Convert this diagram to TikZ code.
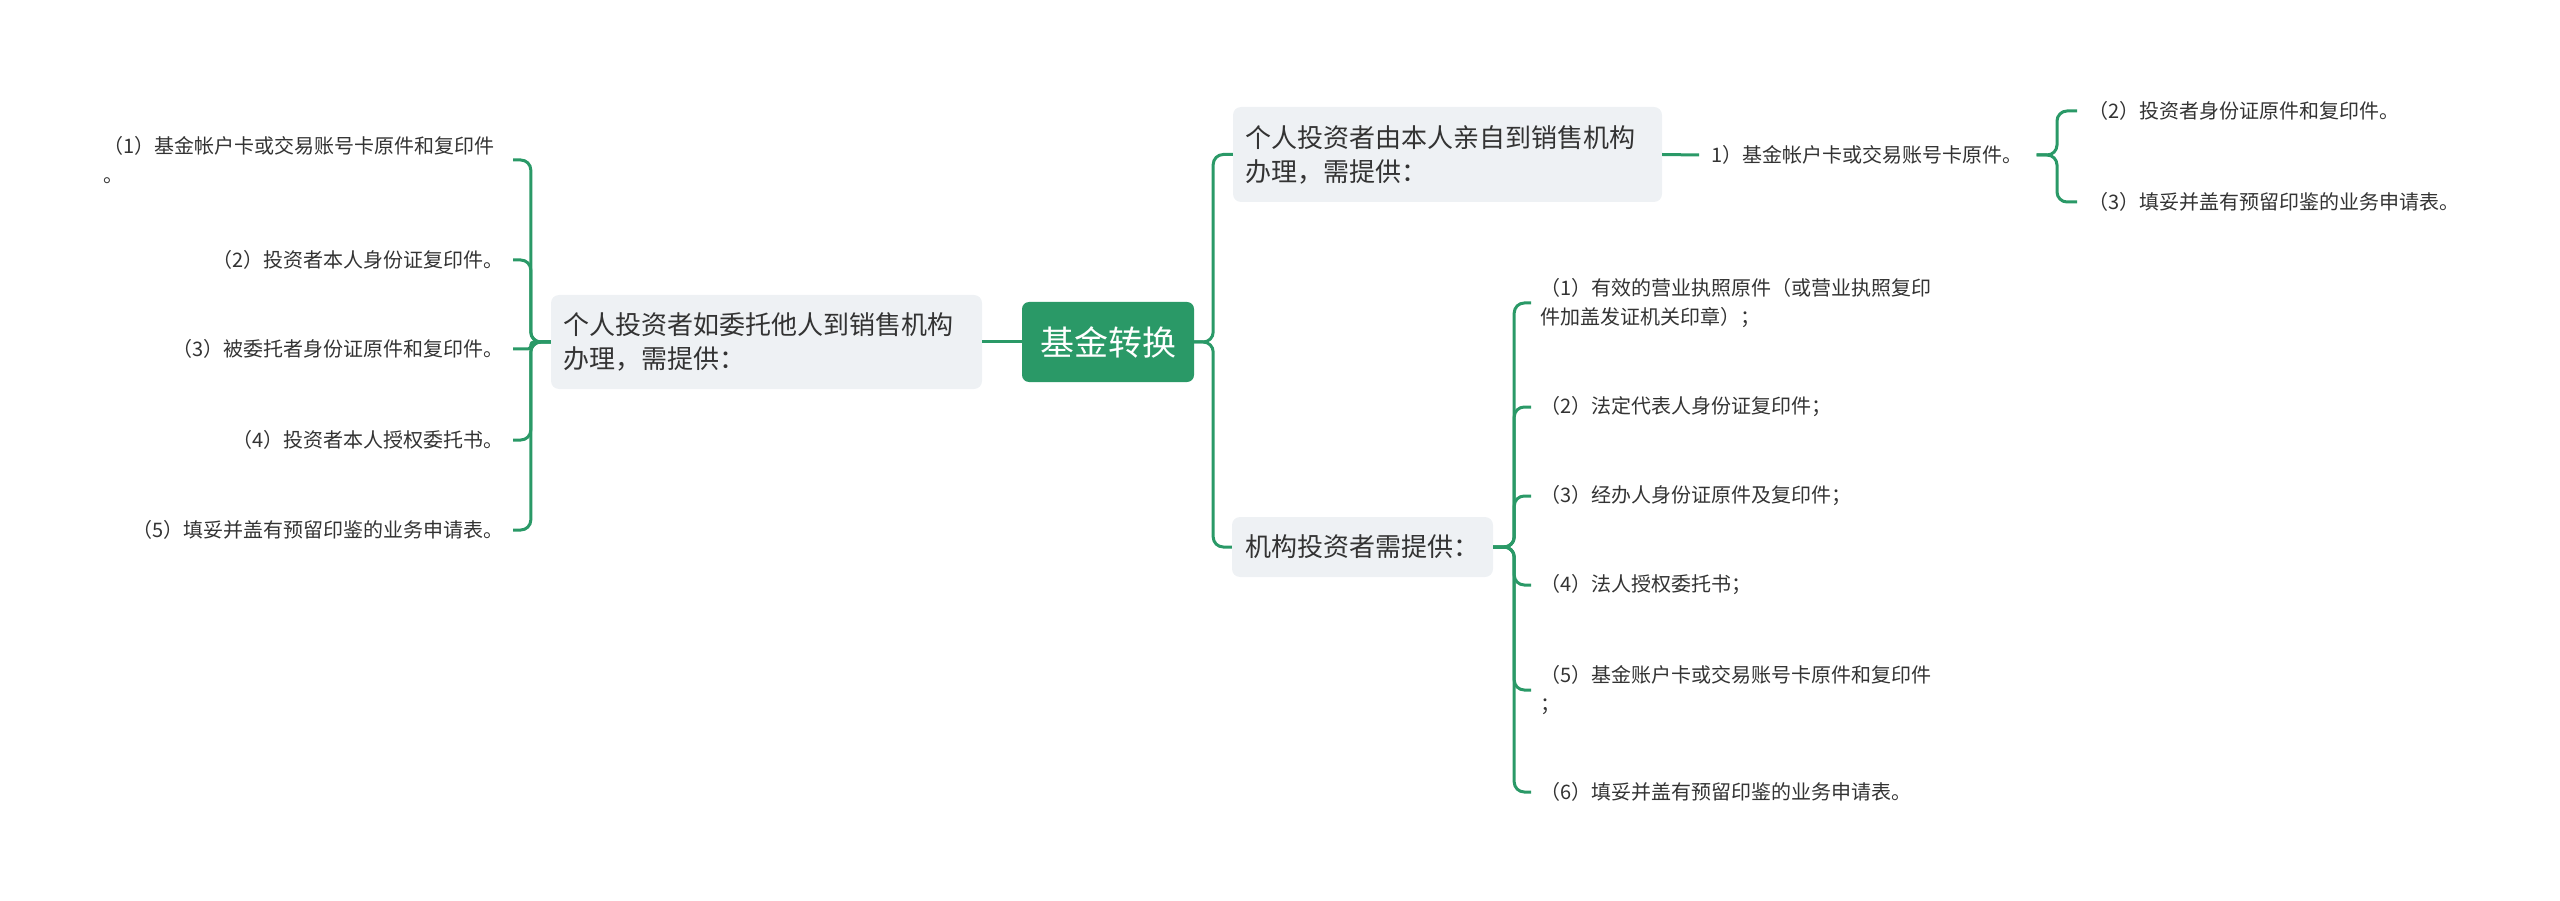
\documentclass[tikz,border=0pt]{standalone}
\usepackage{fontspec}
\setmainfont{Noto Sans CJK SC}
\definecolor{mgreen}{HTML}{2A9967}
\definecolor{mgray}{HTML}{EEF1F4}
\definecolor{mtext}{HTML}{333333}
\begin{document}
\begin{tikzpicture}[x=1pt,y=-1pt,
 conn/.style={draw=mgreen, line width=3pt, rounded corners=10pt},
 rootbox/.style={fill=mgreen, rounded corners=7pt, text=white, font=\fontsize{34}{40}\selectfont, minimum width=172pt, minimum height=80pt, inner sep=0pt},
 mainbox/.style={fill=mgray, rounded corners=8pt, text=mtext, font=\fontsize{26}{34}\selectfont, inner xsep=12pt, inner ysep=0pt, align=left},
 leaf/.style={text=mtext, font=\fontsize{20}{29}\selectfont, inner sep=0pt, align=left}]
\useasboundingbox (0,0) rectangle (2560,901);

% main nodes
\node[rootbox] (R) at (1108,342) {基金转换};
\node[mainbox, text width=407pt, minimum height=94pt] (L) at (766.5,342) {个人投资者如委托他人到销售机构\\办理，需提供：};
\node[mainbox, text width=405pt, minimum height=95pt] (T) at (1447.5,154.5) {个人投资者由本人亲自到销售机构\\办理，需提供：};
\node[mainbox, minimum width=261pt, minimum height=60pt, align=center] (I) at (1362.5,547) {机构投资者需提供：};

% left leaves
\node[leaf, anchor=east] (l1) at (495,160) {（1）基金帐户卡或交易账号卡原件和复印件\\。};
\node[leaf, anchor=east] (l2) at (504,260) {（2）投资者本人身份证复印件。};
\node[leaf, anchor=east] (l3) at (504,349) {（3）被委托者身份证原件和复印件。};
\node[leaf, anchor=east] (l4) at (504,440) {（4）投资者本人授权委托书。};
\node[leaf, anchor=east] (l5) at (504,530) {（5）填妥并盖有预留印鉴的业务申请表。};

% top right leaves
\node[leaf, anchor=west] (K) at (1711,155) {1）基金帐户卡或交易账号卡原件。};
\coordinate (kj) at (2057,155);
\node[leaf, anchor=west] (t2) at (2088,111) {（2）投资者身份证原件和复印件。};
\node[leaf, anchor=west] (t3) at (2088,202) {（3）填妥并盖有预留印鉴的业务申请表。};

% institution leaves
\node[leaf, anchor=west] (i1) at (1540,303) {（1）有效的营业执照原件（或营业执照复印\\件加盖发证机关印章）；};
\node[leaf, anchor=west] (i2) at (1540,407) {（2）法定代表人身份证复印件；};
\node[leaf, anchor=west] (i3) at (1540,496) {（3）经办人身份证原件及复印件；};
\node[leaf, anchor=west] (i4) at (1540,585) {（4）法人授权委托书；};
\node[leaf, anchor=west] (i5) at (1540,690) {（5）基金账户卡或交易账号卡原件和复印件\\；};
\node[leaf, anchor=west] (i6) at (1540,792) {（6）填妥并盖有预留印鉴的业务申请表。};

% connectors
\draw[conn] (R.west) -- (L.east);
\draw[conn] (R.east) -- ++(19,0) |- (T.west);
\draw[conn] (R.east) -- ++(19,0) |- (I.west);

\draw[conn] (L.west) -- ++(-20,0) |- ([xshift=18pt]l1.east);
\draw[conn] (L.west) -- ++(-20,0) |- ([xshift=9pt]l2.east);
\draw[conn, rounded corners=3pt] (L.west) -- ++(-20,0) |- ([xshift=9pt]l3.east);
\draw[conn] (L.west) -- ++(-20,0) |- ([xshift=9pt]l4.east);
\draw[conn] (L.west) -- ++(-20,0) |- ([xshift=9pt]l5.east);

\draw[conn] (T.east) -- ([xshift=-12pt]K.west);
\draw[conn] ([xshift=14pt]K.east) -- (kj) |- ([xshift=-11pt]t2.west);
\draw[conn] ([xshift=14pt]K.east) -- (kj) |- ([xshift=-11pt]t3.west);

\foreach \n in {i1,i2,i3,i4,i5,i6}
  \draw[conn] (I.east) -- ++(21,0) |- ([xshift=-9pt]\n.west);
\end{tikzpicture}
\end{document}
